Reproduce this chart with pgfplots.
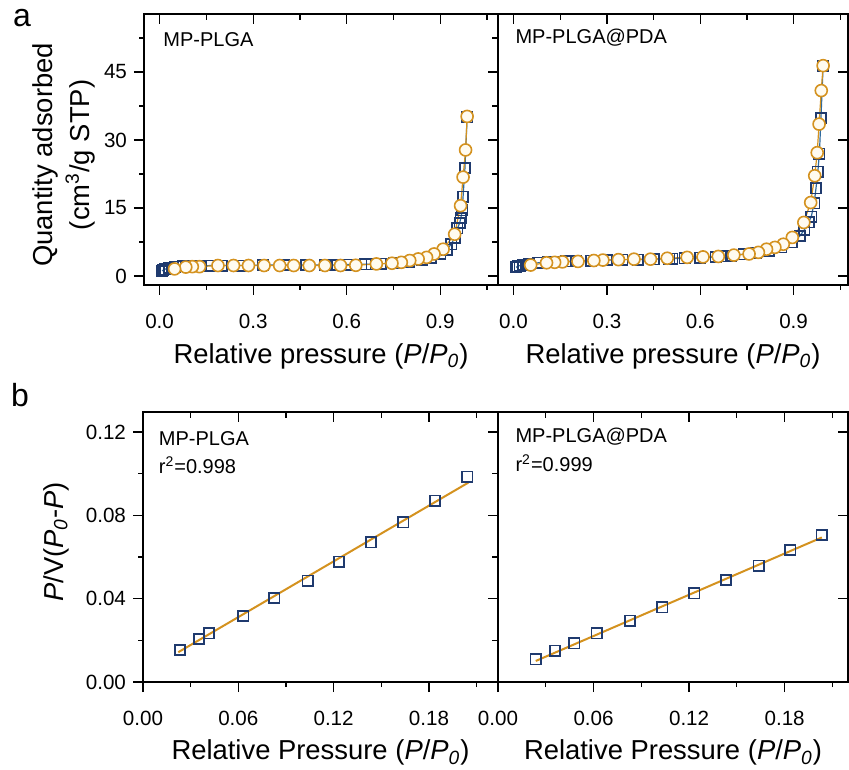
\documentclass[border=0pt]{standalone}
\usepackage{fontspec}
\setmainfont{Liberation Sans}
\usepackage{pgfplots}
\pgfplotsset{compat=1.18}
\definecolor{navy}{HTML}{1F3A6E}
\definecolor{sqline}{HTML}{2E6A9E}
\definecolor{org}{HTML}{D4921F}
\definecolor{cream}{HTML}{FFFBF0}
\pgfplotsset{
  base/.style={scale only axis,
    axis line style={line width=0.75pt, black},
    every tick/.style={black, line width=0.6pt},
    major tick length=5pt, minor tick length=2.5pt,
    tick align=outside, xtick pos=left, ytick pos=left,
    tick label style={font=\fontsize{10.3}{12}\selectfont},
    label style={font=\fontsize{13.7}{18.5}\selectfont},
    xlabel style={at={(axis description cs:0.5,-0.262)}, anchor=center},
    xticklabel style={yshift=-6pt},
  },
  ov/.style={scale only axis,
    axis line style={line width=0.75pt, black},
    every tick/.style={black, line width=0.6pt},
    major tick length=5pt, minor tick length=3pt,
    tick align=inside, xtick pos=right, ytick pos=right,
    xticklabels={}, yticklabels={},
    tick label style={overlay},
  },
  topA/.style={xmin=-0.05, xmax=1.085, ymin=-2, ymax=57.8,
    xtick={0,0.3,0.6,0.9}, minor xtick={0.15,0.45,0.75,1.05}},
  topB/.style={xmin=-0.05, xmax=1.075, ymin=-2, ymax=57.8,
    xtick={0,0.3,0.6,0.9}, minor xtick={0.15,0.45,0.75,1.05}},
  botA/.style={xmin=0, xmax=0.2235, ymin=0, ymax=0.1296,
    xtick={0,0.06,0.12,0.18}, minor xtick={0.03,0.09,0.15,0.21}},
  botB/.style={xmin=0, xmax=0.2198, ymin=0, ymax=0.1296,
    xtick={0,0.06,0.12,0.18}, minor xtick={0.03,0.09,0.15,0.21}},
  sq/.style={color=sqline, line width=0.6pt, mark=square, mark size=2.6pt,
    mark options={draw=navy, fill=white, line width=0.8pt, solid}},
  ci/.style={color=org, line width=0.6pt, mark=*, mark size=3pt,
    mark options={draw=org, fill=cream, line width=0.8pt, solid}},
  bsq/.style={only marks, mark=square, mark size=2.6pt,
    mark options={draw=navy, line width=0.8pt}},
  fit/.style={no marks, color=org, line width=1pt},
}
\begin{document}
\begin{tikzpicture}
\useasboundingbox (0,0) rectangle (424.5pt,-384.5pt);
\node[font=\fontsize{16}{19}\selectfont] at (11pt,-9pt) {a};
\node[font=\fontsize{16}{19}\selectfont] at (10pt,-197.5pt) {b};

% ---------- top left ----------
\begin{axis}[base, topA, at={(72pt,-142.5pt)}, anchor=south west,
  width=177pt, height=135.5pt,
  ytick={0,15,30,45}, minor ytick={7.5,22.5,37.5,52.5},
  xticklabels={0.0,0.3,0.6,0.9}, yticklabels={0,15,30,45},
  xlabel={Relative pressure (\textit{P}/\textit{P}\textsubscript{\textit{0}})},
  ylabel={Quantity adsorbed\\(cm\textsuperscript{3}/g STP)},
  ylabel style={align=center, at={(axis description cs:-0.227,0.48)}, anchor=center}]
\addplot[sq] coordinates {
(0.008,1.1)(0.012,1.3)(0.018,1.5)(0.03,1.8)(0.05,2.0)(0.075,2.1)(0.1,2.2)(0.13,2.2)
(0.165,2.3)(0.2,2.3)(0.26,2.3)(0.33,2.4)(0.4,2.4)(0.47,2.4)(0.53,2.4)(0.57,2.4)
(0.6,2.5)(0.66,2.6)(0.68,2.6)(0.71,2.7)(0.75,2.8)(0.8,3.1)(0.84,3.5)(0.87,4.0)
(0.9,4.9)(0.92,5.8)(0.935,7.0)(0.946,8.4)(0.955,10.5)(0.962,11.7)(0.966,12.8)
(0.97,14.5)(0.973,17.5)(0.979,23.8)(0.986,35.0)};
\addplot[ci] coordinates {
(0.986,35.2)(0.981,27.8)(0.973,21.8)(0.965,15.5)(0.946,9.2)(0.909,5.9)(0.88,4.85)
(0.856,4.1)(0.829,3.75)(0.802,3.4)(0.775,3.0)(0.745,2.8)(0.695,2.65)(0.629,2.35)
(0.58,2.3)(0.53,2.3)(0.48,2.3)(0.43,2.3)(0.385,2.3)(0.335,2.3)(0.285,2.3)(0.237,2.3)
(0.187,2.3)(0.128,2.05)(0.105,2.05)(0.084,1.95)(0.048,1.55)};
\node[anchor=west, font=\fontsize{10}{12}\selectfont] at (rel axis cs:0.035,0.904) {MP-PLGA};
\end{axis}
\begin{axis}[ov, topA, at={(72pt,-142.5pt)}, anchor=south west,
  width=177pt, height=135.5pt,
  ytick={0,15,30,45}, minor ytick={7.5,22.5,37.5,52.5}]
\end{axis}

% ---------- top right ----------
\begin{axis}[base, topB, at={(249pt,-142.5pt)}, anchor=south west,
  width=175pt, height=135.5pt, ytick=\empty,
  xticklabels={0.0,0.3,0.6,0.9},
  xlabel={Relative pressure (\textit{P}/\textit{P}\textsubscript{\textit{0}})}]
\addplot[sq] coordinates {
(0.008,1.9)(0.013,2.1)(0.02,2.3)(0.03,2.5)(0.05,2.7)(0.08,2.9)(0.11,3.0)(0.14,3.1)
(0.17,3.2)(0.2,3.3)(0.25,3.4)(0.3,3.5)(0.35,3.6)(0.4,3.6)(0.45,3.7)(0.5,3.8)(0.51,3.8)
(0.55,3.9)(0.6,4.0)(0.65,4.2)(0.67,4.3)(0.7,4.5)(0.74,4.8)(0.78,5.1)(0.82,5.6)
(0.86,6.3)(0.895,7.4)(0.92,8.8)(0.935,10.2)(0.948,11.8)(0.957,13.1)(0.966,16.0)
(0.972,19.3)(0.978,23.0)(0.983,27.0)(0.988,34.8)(0.995,46.4)};
\addplot[ci] coordinates {
(0.995,46.4)(0.989,40.9)(0.982,33.5)(0.976,27.2)(0.968,22.1)(0.955,16.2)(0.933,11.8)
(0.896,8.5)(0.867,7.0)(0.84,6.3)(0.813,5.9)(0.787,5.2)(0.757,4.85)(0.708,4.6)
(0.658,4.3)(0.609,4.2)(0.558,4.1)(0.494,3.9)(0.44,3.7)(0.387,3.7)(0.337,3.6)
(0.287,3.5)(0.258,3.4)(0.207,3.2)(0.157,3.1)(0.132,3.0)(0.106,2.9)(0.055,2.4)};
\node[anchor=west, font=\fontsize{10}{12}\selectfont] at (rel axis cs:0.03,0.911) {MP-PLGA@PDA};
\end{axis}
\begin{axis}[ov, topB, at={(249pt,-142.5pt)}, anchor=south west,
  width=175pt, height=135.5pt, ytick={0,15,30,45}]
\end{axis}

% ---------- bottom left ----------
\begin{axis}[base, botA, at={(71.5pt,-341pt)}, anchor=south west,
  width=177.5pt, height=135pt,
  ytick={0,0.04,0.08,0.12}, minor ytick={0.02,0.06,0.10},
  xticklabels={0.00,0.06,0.12,0.18}, yticklabels={0.00,0.04,0.08,0.12},
  xlabel={Relative Pressure (\textit{P}/\textit{P}\textsubscript{\textit{0}})},
  ylabel={\textit{P}/V(\textit{P}\textsubscript{\textit{0}}-\textit{P})},
  ylabel style={at={(axis description cs:-0.245,0.519)}, anchor=center}]
\addplot[bsq] coordinates {
(0.0233,0.0154)(0.0353,0.0206)(0.0416,0.0234)(0.0632,0.0317)(0.0827,0.0403)
(0.1037,0.0486)(0.1234,0.0578)(0.1435,0.0671)(0.1639,0.0767)(0.1838,0.0871)(0.2042,0.0986)};
\addplot[fit] coordinates {(0.0222,0.0143)(0.2048,0.0957)};
\node[anchor=west, font=\fontsize{10}{12}\selectfont] at (rel axis cs:0.025,0.9) {MP-PLGA};
\node[anchor=west, font=\fontsize{10}{12}\selectfont] at (rel axis cs:0.025,0.804) {r\textsuperscript{2}=0.998};
\end{axis}
\begin{axis}[ov, botA, at={(71.5pt,-341pt)}, anchor=south west,
  width=177.5pt, height=135pt,
  ytick={0,0.04,0.08,0.12}, minor ytick={0.02,0.06,0.10}]
\end{axis}

% ---------- bottom right ----------
\begin{axis}[base, botB, at={(249pt,-341pt)}, anchor=south west,
  width=175pt, height=135pt, ytick=\empty,
  xticklabels={0.00,0.06,0.12,0.18},
  xlabel={Relative Pressure (\textit{P}/\textit{P}\textsubscript{\textit{0}})}]
\addplot[bsq] coordinates {
(0.0237,0.0109)(0.0358,0.0150)(0.0478,0.0186)(0.062,0.0234)(0.0829,0.0294)
(0.1032,0.0359)(0.1233,0.0426)(0.1432,0.049)(0.1636,0.0559)(0.1835,0.0634)(0.2034,0.0706)};
\addplot[fit] coordinates {(0.0237,0.0101)(0.2034,0.0694)};
\node[anchor=west, font=\fontsize{10}{12}\selectfont] at (rel axis cs:0.03,0.907) {MP-PLGA@PDA};
\node[anchor=west, font=\fontsize{10}{12}\selectfont] at (rel axis cs:0.03,0.811) {r\textsuperscript{2}=0.999};
\end{axis}
\begin{axis}[ov, botB, at={(249pt,-341pt)}, anchor=south west,
  width=175pt, height=135pt, ytick={0.04,0.08,0.12}]
\end{axis}
\end{tikzpicture}
\end{document}
